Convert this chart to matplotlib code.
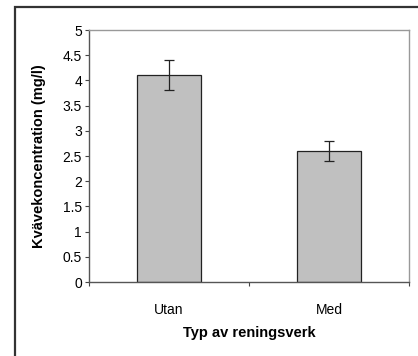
import matplotlib
matplotlib.use('Agg')
import matplotlib.pyplot as plt
from matplotlib.patches import Rectangle

categories = ['Utan', 'Med']
values = [4.1, 2.6]
errors = [0.3, 0.2]
yticks = [0, 0.5, 1, 1.5, 2, 2.5, 3, 3.5, 4, 4.5, 5]

plt.rcParams['font.family'] = ['Liberation Sans', 'DejaVu Sans']

W, H = 418, 356
fig = plt.figure(figsize=(W / 100, H / 100), dpi=100)

# outer chart border (clipped at right and bottom like the original)
fig.patches.append(Rectangle((14.5 / W, -0.05), 1.1, 1 - 6.5 / H + 0.05,
                             transform=fig.transFigure, fill=False,
                             edgecolor='#333333', linewidth=1.6))

left, right, top, bottom = 89, 409, 30, 282
ax = fig.add_axes([left / W, 1 - bottom / H, (right - left) / W, (bottom - top) / H])

x = range(len(categories))
ax.bar(x, values, width=0.405, color='#c0c0c0', edgecolor='#222222', linewidth=0.9)
ax.errorbar(x, values, yerr=errors, fmt='none', ecolor='#222222',
            elinewidth=0.9, capsize=3.7, capthick=0.9)

ax.set_xlim(-0.5, 1.5)
ax.set_ylim(0, 5)
ax.set_yticks(yticks)
ax.set_yticklabels([f'{t:g}' for t in yticks], fontsize=10)
ax.set_xticks([-0.5, 0.5, 1.5])
ax.set_xticklabels([])
ax.set_xticks(list(x), minor=True)
ax.set_xticklabels(categories, minor=True, fontsize=10)
ax.tick_params(axis='x', which='minor', length=0, pad=15)
ax.tick_params(axis='x', which='major', length=3, width=0.8, color='#444444')
ax.tick_params(axis='y', length=3, width=0.8, color='#444444', pad=2)

for side in ['left', 'bottom']:
    ax.spines[side].set_color('#555555')
    ax.spines[side].set_linewidth(1.0)
for side in ['top', 'right']:
    ax.spines[side].set_color('#999999')
    ax.spines[side].set_linewidth(1.0)

ax.set_ylabel('Kvävekoncentration (mg/l)', fontsize=10.5, fontweight='bold', va='center')
ax.yaxis.set_label_coords((39 - left) / (right - left), 0.5)
ax.set_xlabel('Typ av reningsverk', fontsize=10.5, fontweight='bold', va='center')
ax.xaxis.set_label_coords(0.5, (bottom - 333) / (bottom - top))

fig.savefig('out.png', dpi=100)
